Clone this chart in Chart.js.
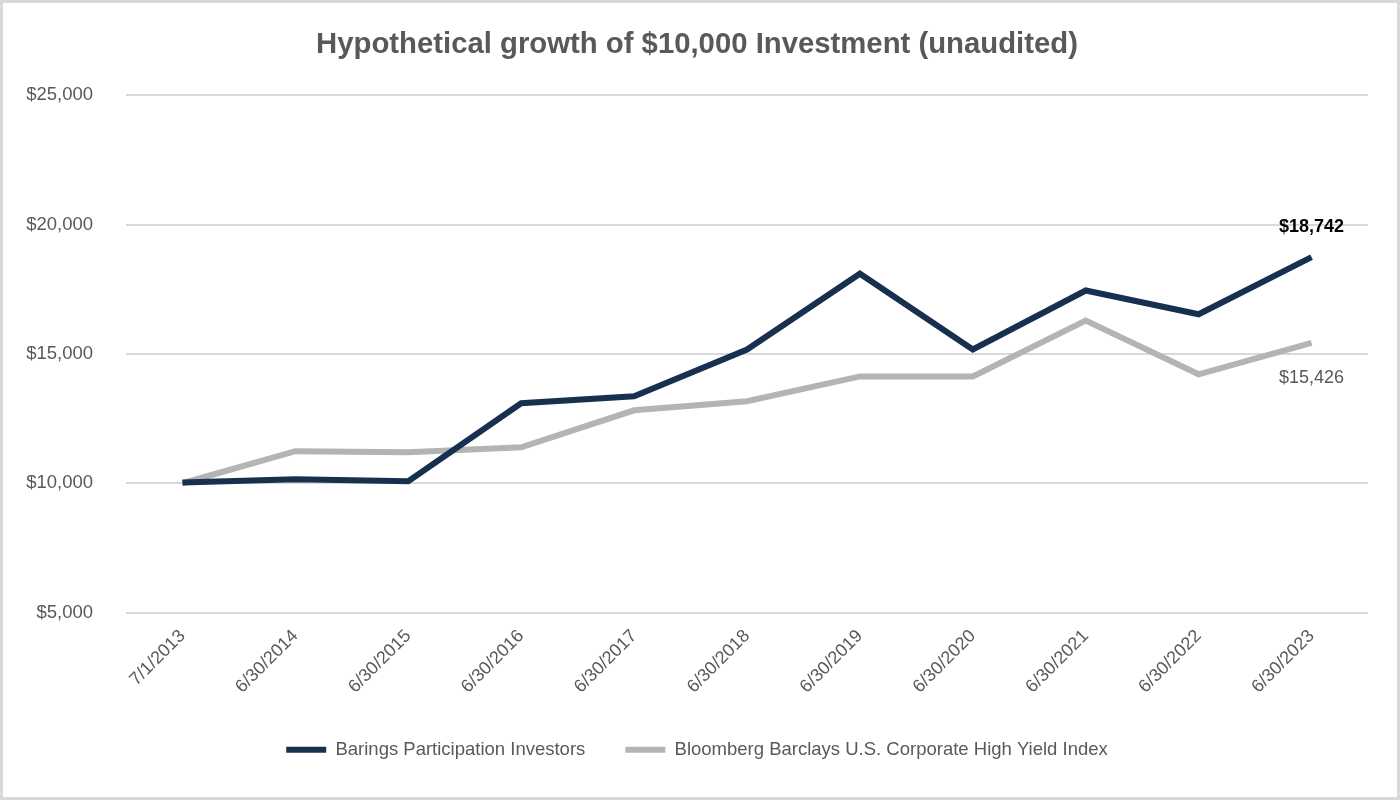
<!DOCTYPE html>
<html>
<head>
<meta charset="utf-8">
<script src="https://cdn.jsdelivr.net/npm/chart.js@4.4.0/dist/chart.umd.min.js"></script>
<style>
  html, body { margin: 0; padding: 0; background: #fff; }
  #wrap { width: 1400px; height: 800px; box-sizing: border-box; border: 3px solid #d9d9d9; position: relative; }
  canvas { display: block; }
</style>
</head>
<body>
<div id="wrap"><canvas id="growthChart" width="1394" height="794"></canvas></div>
<script>
const labels = ['7/1/2013', '6/30/2014', '6/30/2015', '6/30/2016', '6/30/2017', '6/30/2018',
  '6/30/2019', '6/30/2020', '6/30/2021', '6/30/2022', '6/30/2023'];
const barings = [10030, 10150, 10080, 13090, 13360, 15170, 18100, 15170, 17450, 16530, 18742];
const bloomberg = [10000, 11240, 11200, 11390, 12820, 13170, 14130, 14130, 16290, 14210, 15426];
const yTicks = [5000, 10000, 15000, 20000, 25000];

const txt = '#595959';
const font = 'Liberation Sans, Arial, sans-serif';

function money(v) {
  return '$' + v.toLocaleString('en-US');
}

// label on the last point of each line
const endLabels = {
  id: 'endLabels',
  afterDatasetsDraw(chart) {
    const ctx = chart.ctx;
    ctx.save();
    ctx.textAlign = 'center';
    ctx.textBaseline = 'middle';
    chart.data.datasets.forEach((ds, i) => {
      const meta = chart.getDatasetMeta(i);
      const pt = meta.data[meta.data.length - 1];
      const val = ds.data[ds.data.length - 1];
      if (i === 0) {
        ctx.font = 'bold 18px ' + font;
        ctx.fillStyle = '#000';
        ctx.fillText(money(val), pt.x, pt.y - 30);
      } else {
        ctx.font = '18px ' + font;
        ctx.fillStyle = txt;
        ctx.fillText(money(val), pt.x, pt.y + 35);
      }
    });
    ctx.restore();
  }
};

new Chart(document.getElementById('growthChart'), {
  type: 'line',
  data: {
    labels: labels,
    datasets: [{
      label: 'Barings Participation Investors',
      data: barings,
      borderColor: '#17304f',
      backgroundColor: '#17304f',
      borderWidth: 6,
      pointRadius: 0,
      tension: 0
    },
    {
      label: 'Bloomberg Barclays U.S. Corporate High Yield Index',
      data: bloomberg,
      borderColor: '#b4b4b4',
      backgroundColor: '#b4b4b4',
      borderWidth: 6,
      pointRadius: 0,
      tension: 0
    }]
  },
  options: {
    responsive: false,
    animation: false,
    layout: { padding: { left: 23, right: 29, top: 10, bottom: 28 } },
    plugins: {
      title: {
        display: true,
        text: 'Hypothetical growth of $10,000 Investment (unaudited)',
        color: txt,
        font: { family: font, size: 29.3, weight: 'bold' },
        padding: { top: 14, bottom: 33 }
      },
      legend: {
        position: 'bottom',
        labels: {
          color: txt,
          font: { family: font, size: 18.5 },
          boxWidth: 40,
          boxHeight: 6,
          padding: 40,
          generateLabels(chart) {
            const items = Chart.defaults.plugins.legend.labels.generateLabels(chart);
            items.forEach(it => { it.lineWidth = 0; });
            return items;
          }
        }
      },
      tooltip: { enabled: false }
    },
    scales: {
      x: {
        offset: true,
        grid: { display: false },
        border: { display: false },
        afterFit(axis) {
          axis.height -= 2;
          axis.paddingLeft = 0;
          axis.paddingRight = 0;
        },
        ticks: {
          color: txt,
          font: { family: font, size: 18 },
          maxRotation: 45,
          minRotation: 45,
          padding: 5
        }
      },
      y: {
        min: 5000,
        max: 25000,
        afterBuildTicks(axis) {
          axis.ticks = yTicks.map(v => ({ value: v }));
        },
        afterFit(axis) {
          axis.width = 100;
        },
        grid: { color: '#d9d9d9', lineWidth: 2, drawTicks: false },
        border: { display: false },
        ticks: {
          color: txt,
          font: { family: font, size: 18.5 },
          padding: 33,
          callback: v => money(v)
        }
      }
    }
  },
  plugins: [endLabels]
});
</script>
</body>
</html>
